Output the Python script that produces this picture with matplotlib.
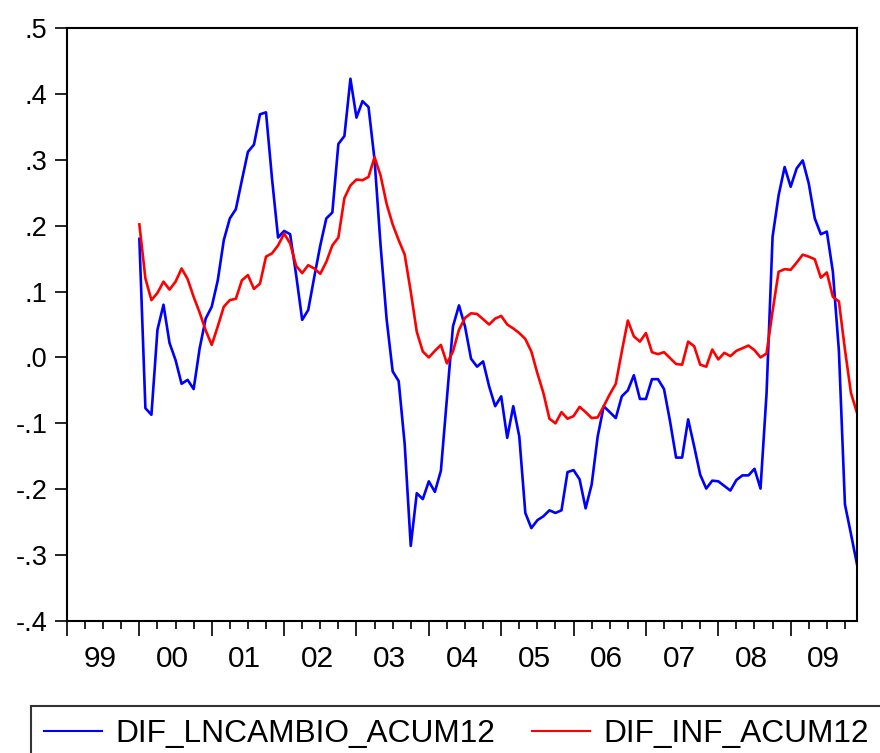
import numpy as np
import matplotlib
matplotlib.use('Agg')
import matplotlib.pyplot as plt
from matplotlib.ticker import FuncFormatter

plt.rcParams['font.family'] = ['Liberation Sans', 'DejaVu Sans']

# monthly data, Jan 2000 .. Dec 2009
dif_lncambio = [
    0.180, -0.077, -0.087, 0.042, 0.080, 0.022, -0.004, -0.040, -0.034, -0.048, 0.014, 0.059,
    0.077, 0.117, 0.178, 0.211, 0.225, 0.269, 0.312, 0.323, 0.369, 0.372, 0.271, 0.182,
    0.192, 0.187, 0.125, 0.057, 0.072, 0.122, 0.170, 0.211, 0.220, 0.324, 0.336, 0.423,
    0.364, 0.389, 0.380, 0.300, 0.170, 0.058, -0.021, -0.036, -0.132, -0.286, -0.206, -0.215,
    -0.188, -0.204, -0.172, -0.062, 0.047, 0.079, 0.047, -0.002, -0.014, -0.006, -0.044, -0.074,
    -0.059, -0.122, -0.074, -0.120, -0.236, -0.259, -0.247, -0.241, -0.232, -0.236, -0.232, -0.174,
    -0.171, -0.185, -0.229, -0.193, -0.120, -0.074, -0.083, -0.092, -0.059, -0.050, -0.027, -0.063,
    -0.063, -0.033, -0.033, -0.048, -0.097, -0.152, -0.152, -0.094, -0.135, -0.178, -0.199, -0.187,
    -0.188, -0.195, -0.202, -0.186, -0.179, -0.179, -0.169, -0.199, -0.055, 0.183, 0.246, 0.289,
    0.259, 0.287, 0.299, 0.264, 0.211, 0.187, 0.191, 0.130, 0.010, -0.223, -0.268, -0.314,
]
dif_inf = [
    0.202, 0.120, 0.087, 0.098, 0.115, 0.103, 0.115, 0.135, 0.119, 0.092, 0.068, 0.041,
    0.019, 0.047, 0.077, 0.087, 0.089, 0.117, 0.125, 0.104, 0.112, 0.153, 0.158, 0.170,
    0.188, 0.173, 0.139, 0.128, 0.140, 0.135, 0.127, 0.145, 0.170, 0.182, 0.242, 0.261,
    0.270, 0.269, 0.274, 0.304, 0.276, 0.233, 0.202, 0.178, 0.156, 0.100, 0.039, 0.009,
    0.000, 0.010, 0.019, -0.009, 0.009, 0.042, 0.060, 0.067, 0.066, 0.058, 0.050, 0.059,
    0.063, 0.050, 0.044, 0.037, 0.028, 0.009, -0.024, -0.054, -0.093, -0.100, -0.083, -0.093,
    -0.089, -0.075, -0.083, -0.092, -0.091, -0.074, -0.056, -0.040, 0.009, 0.056, 0.032, 0.024,
    0.037, 0.008, 0.005, 0.008, -0.001, -0.010, -0.011, 0.024, 0.017, -0.011, -0.014, 0.012,
    -0.003, 0.007, 0.002, 0.010, 0.014, 0.018, 0.011, 0.000, 0.006, 0.070, 0.130, 0.134,
    0.133, 0.144, 0.156, 0.153, 0.149, 0.121, 0.129, 0.092, 0.085, 0.012, -0.054, -0.084,
]
year_labels = ['99', '00', '01', '02', '03', '04', '05', '06', '07', '08', '09']
series_names = ['DIF_LNCAMBIO_ACUM12', 'DIF_INF_ACUM12']

# month index counted from Jan 1999
first_month = 12
n_months = 132
t = np.arange(first_month, first_month + len(dif_lncambio))


def fmt_y(v, pos):
    v = round(v, 1) + 0.0
    s = f'{v:.1f}'
    if s == '-0.0':
        s = '0.0'
    return s.replace('0.', '.')


fig = plt.figure(figsize=(8.8, 7.53), dpi=100)
ax = fig.add_axes([67 / 880, 1 - 621 / 753, 790 / 880, 593 / 753])

l1, = ax.plot(t, dif_lncambio, color='#0000ff', lw=1.9)
l2, = ax.plot(t, dif_inf, color='#ff0000', lw=1.9)

ax.set_xlim(0, n_months - 1)
ax.set_ylim(-0.4, 0.5)

ax.set_yticks(np.arange(-0.4, 0.51, 0.1))
ax.yaxis.set_major_formatter(FuncFormatter(fmt_y))
ax.tick_params(axis='y', direction='out', length=9, width=1.2, pad=5, labelsize=19.5)

years = np.arange(0, n_months, 12)
quarters = [m for m in range(0, n_months, 3) if m % 12 != 0]
ax.set_xticks(years)
ax.set_xticklabels([])
ax.set_xticks(quarters, minor=True)
ax.tick_params(axis='x', which='major', direction='out', length=11, width=1.2)
ax.tick_params(axis='x', which='minor', direction='out', length=5.5, width=1.2)
ax.tick_params(top=False, right=False)

sec = ax.secondary_xaxis('bottom')
sec.set_xticks(years + 5.5, year_labels)
sec.tick_params(length=0, pad=17, labelsize=21.5)
sec.spines['bottom'].set_visible(False)

for sp in ax.spines.values():
    sp.set_linewidth(1.5)

leg = fig.legend([l1, l2], series_names, loc='upper left',
                 bbox_to_anchor=(31 / 880, 1 - 706 / 753), ncol=2,
                 fontsize=22.8, frameon=True, fancybox=False,
                 edgecolor='black', borderpad=0.4, handlelength=1.85,
                 handletextpad=0.42, columnspacing=1.15, borderaxespad=0)
leg.get_frame().set_linewidth(1.5)
for h in leg.get_lines():
    h.set_linewidth(1.5)

fig.savefig('out.png', dpi=100)
